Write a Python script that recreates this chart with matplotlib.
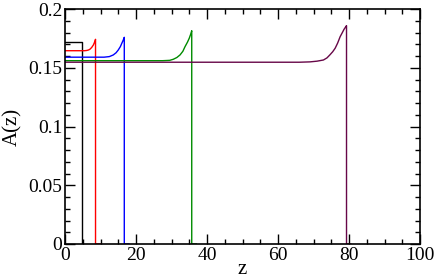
import matplotlib
matplotlib.use("Agg")
import matplotlib.pyplot as plt
from matplotlib.ticker import MultipleLocator

plt.rcParams['font.family'] = ['Liberation Serif', 'DejaVu Serif']

# Curve data
z_black = [0, 4.9, 4.9]
A_black = [0.1722, 0.1722, 0.0]

z_red = [0, 3, 5.5, 6.1, 6.6, 7.0, 7.5, 8.0, 8.3, 8.6, 8.6, 10.0]
A_red = [0.1645, 0.1645, 0.1645, 0.1647, 0.1651, 0.1657, 0.1672, 0.1694, 0.1716, 0.1742, 0.0, 0.0]

z_blue = [0, 6, 11.0, 12.5, 13.6, 14.4, 15.0, 15.6, 16.0, 16.4, 16.7, 16.7, 18.0]
A_blue = [0.159, 0.159, 0.159, 0.1595, 0.1609, 0.1628, 0.1651, 0.1680, 0.1708, 0.1735, 0.1759, 0.0, 0.0]

z_green = [0, 15, 27.5, 29.5, 30.5, 31.5, 32.4, 33.2, 33.8, 34.5, 35.0, 35.4, 35.7, 35.7, 37.0]
A_green = [0.156, 0.156, 0.156, 0.1563, 0.1572, 0.1587, 0.1609, 0.1640, 0.1679, 0.1718, 0.1751, 0.1785, 0.1815, 0.0, 0.0]

z_maroon = [0, 40, 66.0, 69.0, 71.0, 72.8, 73.8, 74.6, 75.4, 76.1, 76.8, 77.5, 78.1, 78.6, 79.0, 79.3, 79.3, 80.5]
A_maroon = [0.1547, 0.1547, 0.1547, 0.1550, 0.1556, 0.1566, 0.1584, 0.1609, 0.1636, 0.1666, 0.1710, 0.1764, 0.1798, 0.1827, 0.1845, 0.1858, 0.0, 0.0]

x_ticks = [0, 20, 40, 60, 80, 100]
x_tick_labels = ["0", "20", "40", "60", "80", "100"]
y_ticks = [0, 0.05, 0.1, 0.15, 0.2]
y_tick_labels = ["0", "0.05", "0.1", "0.15", "0.2"]

fig = plt.figure(figsize=(4.36, 2.80), dpi=100)
ax = fig.add_axes([65/436, 1 - 244/280, (420 - 65)/436, (244 - 9)/280])

lw = 1.0
ax.plot(z_black, A_black, color='black', lw=lw)
ax.plot(z_red, A_red, color='#ff0000', lw=lw)
ax.plot(z_blue, A_blue, color='#0000ff', lw=lw)
ax.plot(z_green, A_green, color='#008b00', lw=lw)
ax.plot(z_maroon, A_maroon, color='#670748', lw=lw)

ax.set_xlim(0, 100)
ax.set_ylim(0, 0.2)
ax.set_xticks(x_ticks)
ax.set_xticklabels(x_tick_labels)
ax.set_yticks(y_ticks)
ax.set_yticklabels(y_tick_labels)
ax.xaxis.set_minor_locator(MultipleLocator(5))
ax.yaxis.set_minor_locator(MultipleLocator(0.01))

ax.tick_params(which='both', direction='in', top=True, right=True,
               labelsize=14, width=1.0, pad=2)
ax.tick_params(which='major', length=7)
ax.tick_params(which='minor', length=3.5)
for s in ax.spines.values():
    s.set_linewidth(1.2)

ax.set_xlabel('z', fontsize=15, labelpad=-2.5)
ax.set_ylabel('A(z)', fontsize=15, labelpad=4)

fig.savefig('out.png', dpi=100)
